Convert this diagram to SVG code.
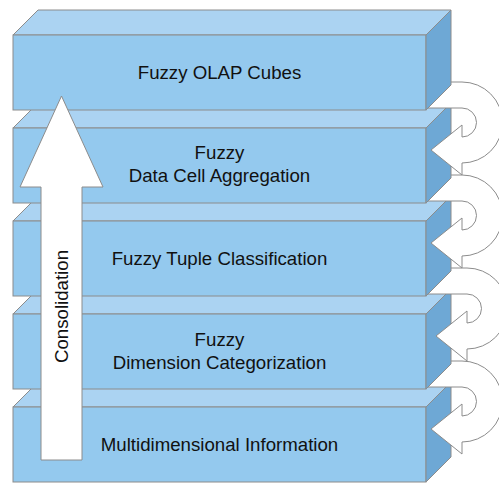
<svg xmlns="http://www.w3.org/2000/svg" width="499" height="484" viewBox="0 0 499 484">
  <style>
    .top { fill: #abd3f2; stroke: #8c8c8c; stroke-width: 1; }
    .front { fill: #94c9ee; stroke: #8c8c8c; stroke-width: 1; }
    .side { fill: #6ea8d5; stroke: #8c8c8c; stroke-width: 1; }
    .cycle { fill: #ffffff; stroke: #8c8c8c; stroke-width: 1; stroke-linejoin: miter; }
    .label { font-family: "Liberation Sans", Arial, sans-serif; font-size: 18.67px; fill: #111111; text-anchor: middle; }
    .up { fill: #ffffff; stroke: #8c8c8c; stroke-width: 1; }
  </style>
  <defs>
    <!-- one slab: front face 413x75, depth 25 -->
    <g id="slab">
      <polygon class="top" points="13,0 38,-25 451,-25 426,0"/>
      <rect class="front" x="13" y="0" width="413" height="75"/>
      <polygon class="side" points="426,0 451,-25 451,50 426,75"/>
    </g>
    <!-- curved feedback arrow from one slab into the slab below -->
    <path id="cycle" class="cycle" d="M 420 47 L 462 47 A 40.5 40.5 0 0 1 462 128 L 462 140 L 431 115 L 462 90 L 462 102 A 14.5 14.5 0 0 0 462 73 L 420 73 Z"/>
  </defs>

  <!-- slabs drawn back to front, bottom first -->
  <g id="multidimensional-information" transform="translate(0,407)">
    <use href="#slab"/>
    <text class="label" x="219.5" y="44">Multidimensional Information</text>
  </g>

  <g id="connectors-lower">
    <use href="#cycle" transform="translate(0,314)"/>
  </g>

  <g id="fuzzy-dimension-categorization" transform="translate(0,314)">
    <use href="#slab"/>
    <text class="label" x="219.5" y="32">Fuzzy</text>
    <text class="label" x="219.5" y="54.5">Dimension Categorization</text>
  </g>

  <g id="connectors-middle">
    <use href="#cycle" transform="translate(5,221)"/>
  </g>

  <g id="fuzzy-tuple-classification" transform="translate(0,221)">
    <use href="#slab"/>
    <text class="label" x="219.5" y="43.5">Fuzzy Tuple Classification</text>
  </g>

  <g id="connectors-upper">
    <use href="#cycle" transform="translate(0,128)"/>
  </g>

  <g id="fuzzy-data-cell-aggregation" transform="translate(0,128)">
    <use href="#slab"/>
    <text class="label" x="219.5" y="31">Fuzzy</text>
    <text class="label" x="219.5" y="53.5">Data Cell Aggregation</text>
  </g>

  <g id="connectors-top">
    <use href="#cycle" transform="translate(0,35)"/>
  </g>

  <g id="fuzzy-olap-cubes" transform="translate(0,35)">
    <use href="#slab"/>
    <text class="label" x="219.5" y="43.5">Fuzzy OLAP Cubes</text>
  </g>

  <!-- consolidation arrow across all slabs -->
  <g id="consolidation">
    <polygon class="up" points="61.5,96 103,187 82,187 82,460 41,460 41,187 20,187"/>
    <text class="label" transform="translate(68,306.5) rotate(-90)" x="0" y="0">Consolidation</text>
  </g>
</svg>
